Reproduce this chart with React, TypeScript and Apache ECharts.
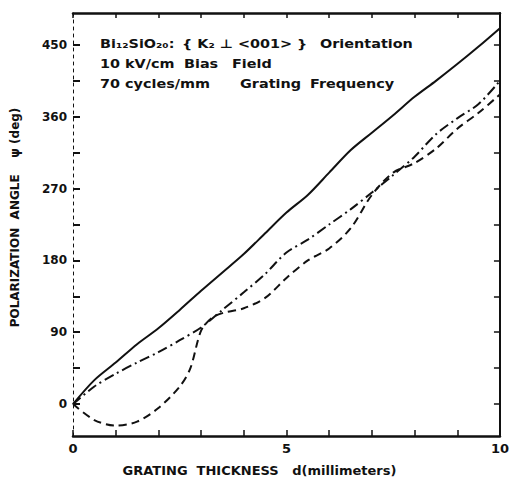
import React, { useEffect, useRef } from "react";
import * as echarts from "echarts";

const solidX = [0, 0.5, 1, 1.5, 2, 2.5, 3, 3.5, 4, 4.5, 5, 5.5, 6, 6.5, 7, 7.5, 8, 8.5, 9, 9.5, 10];
const solidY = [0, 30, 52, 75, 95, 118, 142, 165, 188, 214, 240, 262, 290, 318, 340, 362, 385, 405, 426, 448, 471];

const dashDotX = [0, 0.5, 1, 1.5, 2, 2.5, 3, 3.5, 4, 4.5, 5, 5.5, 6, 6.5, 7, 7.5, 8, 8.5, 9, 9.5, 10];
const dashDotY = [0, 22, 38, 52, 65, 80, 96, 118, 140, 163, 190, 206, 225, 244, 265, 287, 310, 338, 358, 376, 405];

const dashedX = [0, 0.5, 1, 1.5, 2, 2.5, 2.75, 3, 3.25, 3.5, 4, 4.5, 5, 5.5, 6, 6.5, 7, 7.5, 8, 8.5, 9, 9.5, 10];
const dashedY = [0, -20, -27, -22, -5, 22, 45, 92, 108, 114, 120, 133, 158, 180, 195, 220, 262, 290, 302, 320, 345, 365, 388];

const xLabels = [0, 5, 10];
const yTicks = [0, 45, 90, 135, 180, 225, 270, 315, 360, 405, 450];
const yLabels = [0, 90, 180, 270, 360, 450];

const annotationWords = [
  ["Bi\u2081\u2082SiO\u2082\u2080:", "{ K\u2082 \u22A5 <001> }", "Orientation"],
  ["10 kV/cm", "Bias", "Field"],
  ["70 cycles/mm", "Grating", "Frequency"],
];
// layout only (pixel x of each word, y of each line)
const wordX = [
  [100, 182, 320],
  [100, 184, 232],
  [100, 240, 310],
];
const lineY = [44, 64, 84];

const FONT = "'DejaVu Sans', sans-serif";
const INK = "#111";

const pairs = (xs: number[], ys: number[]) => xs.map((x, i) => [x, ys[i]]);

export default function App() {
  const ref = useRef<HTMLDivElement>(null);
  useEffect(() => {
    if (!ref.current) return;
    const chart = echarts.init(ref.current, null, { renderer: "svg" });
    const grid = { left: 73, right: 7, top: 13, bottom: 45 };
    const graphic: any[] = [];
    annotationWords.forEach((words, li) =>
      words.forEach((w, wi) =>
        graphic.push({
          type: "text",
          x: wordX[li][wi],
          y: lineY[li],
          scaleX: 1.2,
          style: {
            text: w,
            fontFamily: FONT,
            fontSize: 12,
            fontWeight: "bold",
            fill: INK,
            verticalAlign: "middle",
          },
        })
      )
    );
    chart.setOption({
      animation: false,
      backgroundColor: "#fff",
      grid,
      xAxis: [
        {
          type: "value",
          min: 0,
          max: 10,
          interval: 1,
          position: "bottom",
          name: "GRATING  THICKNESS   d(millimeters)",
          nameLocation: "middle",
          nameGap: 28,
          nameTextStyle: {
            fontFamily: FONT,
            fontSize: 13,
            fontWeight: "bold",
            color: INK,
            padding: [0, 54, 0, 0],
          },
          axisLine: { onZero: false, lineStyle: { color: INK, width: 2.5 } },
          axisTick: { inside: true, length: 6, lineStyle: { color: INK, width: 1.5 } },
          axisLabel: {
            fontFamily: FONT,
            fontSize: 13,
            fontWeight: "bold",
            color: INK,
            margin: 6,
            formatter: (v: number) => (xLabels.includes(v) ? String(v) : ""),
          },
          splitLine: { show: false },
        },
        {
          type: "value",
          min: 0,
          max: 10,
          interval: 1,
          position: "top",
          axisLine: { onZero: false, lineStyle: { color: INK, width: 2.5 } },
          axisTick: { inside: true, length: 5, lineStyle: { color: INK, width: 1.5 } },
          axisLabel: { show: false },
          splitLine: { show: false },
        },
      ],
      yAxis: [
        {
          type: "value",
          min: -40,
          max: 490,
          position: "left",
          name: "POLARIZATION  ANGLE    \u03C8 (deg)",
          nameLocation: "middle",
          nameGap: 52,
          nameTextStyle: {
            fontFamily: FONT,
            fontSize: 12,
            fontWeight: "bold",
            color: INK,
            padding: [0, 0, 0, 14],
          },
          axisLine: { onZero: false, lineStyle: { color: INK, width: 1, type: [3, 4] } },
          axisTick: {
            inside: true,
            length: 7,
            customValues: yTicks,
            lineStyle: { color: INK, width: 2 },
          },
          axisLabel: {
            fontFamily: FONT,
            fontSize: 12,
            fontWeight: "bold",
            color: INK,
            margin: 6,
            customValues: yLabels,
          },
          splitLine: { show: false },
        },
        {
          type: "value",
          min: -40,
          max: 490,
          position: "right",
          axisLine: { onZero: false, lineStyle: { color: INK, width: 2 } },
          axisTick: {
            inside: true,
            length: 6,
            customValues: yTicks,
            lineStyle: { color: INK, width: 1.5 },
          },
          axisLabel: { show: false },
          splitLine: { show: false },
        },
      ],
      graphic,
      series: [
        {
          type: "line",
          data: pairs(solidX, solidY),
          smooth: 0.3,
          showSymbol: false,
          lineStyle: { color: INK, width: 2 },
        },
        {
          type: "line",
          data: pairs(dashDotX, dashDotY),
          smooth: 0.3,
          showSymbol: false,
          lineStyle: { color: INK, width: 2, type: [10, 4, 2, 4] },
        },
        {
          type: "line",
          data: pairs(dashedX, dashedY),
          smooth: 0.3,
          showSymbol: false,
          lineStyle: { color: INK, width: 2, type: [8, 5] },
        },
      ],
    });
    return () => chart.dispose();
  }, []);
  return <div ref={ref} style={{ width: 512, height: 482, position: "absolute", left: 0, top: 0 }} />;
}
